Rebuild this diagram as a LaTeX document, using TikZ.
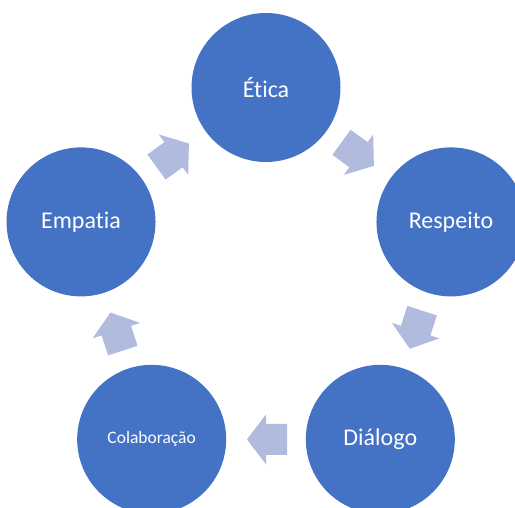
\documentclass[tikz,border=0pt]{standalone}
\usepackage{fontspec}
\setmainfont{Carlito}[Ligatures=NoCommon]
\usetikzlibrary{calc}
\definecolor{cblue}{RGB}{68,114,196}
\definecolor{carrow}{RGB}{176,187,222}
\tikzset{
  x=1pt, y=1pt,
  cyclenode/.style={circle, fill=cblue, draw=none, minimum size=149pt, inner sep=0pt,
    text=white, font=\fontsize{24}{28}\selectfont},
  smalltext/.style={font=\fontsize{17.5}{21}\selectfont},
  cyclearrow/.pic={
    \fill[carrow] (-21,-15.5) -- (0,-15.5) -- (0,-25) -- (19,0) -- (0,25) -- (0,15.5) -- (-21,15.5) -- cycle;
  }
}
\begin{document}
\begin{tikzpicture}
\useasboundingbox (0,0) rectangle (515,507);
\clip (0,0) rectangle (515,507);
\coordinate (c) at (266,225);
\node[cyclenode] (etica) at ($(c)+(90:194.5)$) {Ética};
\node[cyclenode] (respeito) at ($(c)+(18:194.5)$) {Respeito};
\node[cyclenode] (dialogo) at ($(c)+(-54:194.5)$) {Diálogo};
\node[cyclenode, smalltext] (colab) at ($(c)+(-126:194.5)$) {Colaboração};
\node[cyclenode] (empatia) at ($(c)+(162:194.5)$) {Empatia};
\pic[rotate=-36] at ($(etica)!0.5!(respeito)$) {cyclearrow};
\pic[rotate=-108] at ($(respeito)!0.5!(dialogo)$) {cyclearrow};
\pic[rotate=180] at ($(dialogo)!0.5!(colab)$) {cyclearrow};
\pic[rotate=108] at ($(colab)!0.5!(empatia)$) {cyclearrow};
\pic[rotate=36] at ($(empatia)!0.5!(etica)$) {cyclearrow};
\end{tikzpicture}
\end{document}
